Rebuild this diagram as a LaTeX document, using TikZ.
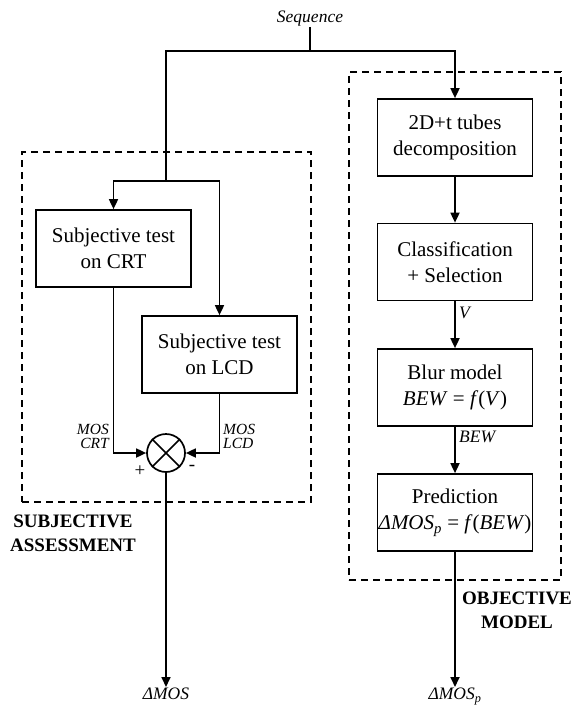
\documentclass[tikz,border=0pt]{standalone}
\usepackage{fontspec}
\setmainfont{Liberation Serif}
\usetikzlibrary{arrows.meta}
\tikzset{
  box/.style={draw, line width=1.7pt, minimum width=155pt, minimum height=77pt, align=center, font=\fontsize{21}{26.5}\selectfont, inner sep=0pt},
  conn/.style={line width=1.7pt},
  arr/.style={conn, -{Triangle[length=10pt,width=9pt]}},
  region/.style={draw, line width=1.7pt, dash pattern=on 7pt off 5pt, inner sep=0pt},
  lbl/.style={font=\fontsize{17.5}{20}\selectfont\itshape, inner sep=1pt},
  pairlbl/.style={font=\fontsize{15.5}{14}\selectfont\itshape, inner sep=0pt},
  grouptitle/.style={font=\fontsize{19}{24}\selectfont\bfseries, align=center, inner sep=0pt},
  signlbl/.style={font=\fontsize{19}{20}\selectfont, inner sep=0pt},
  sumnode/.style={circle, draw, line width=1.7pt, minimum size=38pt, inner sep=0pt}
}
\begin{document}
\begin{tikzpicture}[x=1pt,y=-1pt]
\useasboundingbox (0,0) rectangle (573,709);
% regions
\node[region, minimum width=289pt, minimum height=350pt] (subj) at (166.5,327) {};
\node[region, minimum width=212pt, minimum height=508pt] (obj) at (455,326) {};
% titles
\node[grouptitle] (subjt) at (73,533) {SUBJECTIVE\\ASSESSMENT};
\node[grouptitle] (objt) at (517,610) {OBJECTIVE\\MODEL};
% input
\node[lbl, anchor=south] (seq) at (310,27) {Sequence};
\coordinate (j0) at (310,51);
\coordinate (jL) at (166,181);
% boxes
\node[box] (crt) at (113.5,248.5) {Subjective test\\on CRT};
\node[box] (lcd) at (219.5,354.5) {Subjective test\\on LCD};
\node[box] (dec) at (455,137.5) {2D+t tubes\\decomposition};
\node[box] (cls) at (455,262) {Classification\\+ Selection};
\node[box] (blur) at (455,387.5) {Blur model\\\textit{BEW} = \textit{f}(\textit{V})};
\node[box] (pred) at (455,512.5) {Prediction\\\textit{ΔMOS\textsubscript{p}} = \textit{f}(\textit{BEW})};
% sum
\node[sumnode] (sum) at (166,453) {};
\draw[conn] (sum.north west) -- (sum.south east);
\draw[conn] (sum.north east) -- (sum.south west);
\node[signlbl] (plus) at (140,471) {+};
\node[signlbl] (minus) at (192,468) {-};
% outputs
\node[lbl, anchor=north] (dmos) at (166,687) {ΔMOS};
\node[lbl, anchor=north] (dmosp) at (455,687) {ΔMOS\textsubscript{p}};
% labels
\node[pairlbl, align=right, anchor=east] (mcrt) at (109,436) {MOS\\CRT};
\node[pairlbl, align=left, anchor=west] (mlcd) at (223,436) {MOS\\LCD};
\node[lbl, anchor=west] (vlab) at (458,313) {V};
\node[lbl, anchor=west] (bewlab) at (458,437) {BEW};
% connectors
\draw[conn] (seq.south) -- (j0);
\draw[arr] (j0) -| (dec.north);
\draw[conn] (j0) -| (jL);
\draw[arr] (jL) -| (crt.north);
\draw[arr] (jL) -| (lcd.north);
\draw[arr] (crt.south) |- (sum.west);
\draw[arr] (lcd.south) |- (sum.east);
\draw[arr] (sum.south) -- (dmos.north);
\draw[arr] (dec.south) -- (cls.north);
\draw[arr] (cls.south) -- (blur.north);
\draw[arr] (blur.south) -- (pred.north);
\draw[arr] (pred.south) -- (dmosp.north);
\end{tikzpicture}
\end{document}
